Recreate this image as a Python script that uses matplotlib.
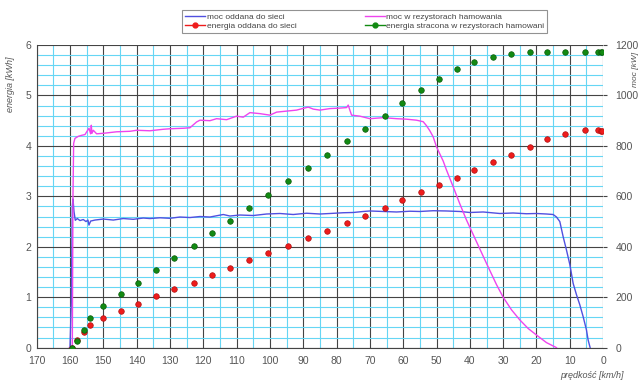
import matplotlib.pyplot as plt
from matplotlib.lines import Line2D
from matplotlib.ticker import MultipleLocator

plt.rcParams['font.family'] = ['Liberation Sans', 'DejaVu Sans']

# energy readings taken at these speeds [km/h]
speed_pts = [159.5, 157.8, 155.9, 154.0, 150.0, 144.8, 139.5, 134.2, 128.8, 122.8,
             117.5, 111.9, 106.3, 100.5, 94.5, 88.7, 83.0, 77.0, 71.5, 65.6,
             60.3, 54.7, 49.4, 44.0, 38.7, 33.1, 27.5, 22.0, 16.8, 11.4,
             5.5, 1.5, 0.6, 0.2]
energy_grid = [0.0, 0.15, 0.31, 0.45, 0.59, 0.72, 0.87, 1.02, 1.16, 1.29,
               1.44, 1.58, 1.73, 1.88, 2.02, 2.18, 2.32, 2.47, 2.61, 2.77,
               2.92, 3.08, 3.23, 3.37, 3.53, 3.68, 3.82, 3.97, 4.13, 4.24,
               4.31, 4.31, 4.30, 4.29]
energy_lost = [0.0, 0.14, 0.35, 0.58, 0.83, 1.06, 1.29, 1.54, 1.78, 2.01,
               2.27, 2.52, 2.77, 3.02, 3.30, 3.56, 3.82, 4.09, 4.34, 4.59,
               4.85, 5.10, 5.33, 5.53, 5.67, 5.77, 5.83, 5.86, 5.87, 5.87,
               5.87, 5.87, 5.87, 5.87]

# power fed back to the grid [kW]
grid_speed = [160.0, 159.6, 159.3, 159.1, 158.8, 158.4, 157.8, 157.0, 156.0, 155.2,
              154.6, 154.3, 153.8, 152.5, 150.0, 147.0, 144.0, 141.0, 138.0, 136.0,
              133.0, 130.0, 127.0, 124.0, 121.0, 118.0, 114.0, 112.0, 109.0, 105.0,
              101.0, 97.0, 93.0, 89.0, 85.0, 82.0, 78.0, 75.0, 72.0, 70.0,
              66.0, 62.0, 58.0, 55.0, 51.0, 47.0, 43.0, 40.0, 36.0, 31.0,
              27.0, 23.0, 20.0, 17.0, 15.0, 14.0, 13.0, 12.0, 11.0, 10.0,
              9.0, 8.0, 7.0, 6.0, 5.0, 4.5, 3.9]
grid_power = [0, 180, 560, 590, 540, 505, 512, 504, 508, 500,
              506, 486, 502, 506, 510, 506, 512, 509, 514, 512,
              515, 513, 518, 516, 520, 518, 528, 522, 526, 524,
              530, 532, 528, 533, 530, 532, 535, 536, 540, 542,
              540, 538, 541, 540, 543, 542, 540, 536, 538, 532,
              534, 531, 532, 530, 528, 518, 500, 440, 387, 330,
              255, 210, 170, 123, 70, 30, 0]

# power dissipated in the braking resistors [kW]
res_speed = [160.2, 159.3, 159.1, 158.9, 158.5, 157.5, 156.5, 155.5, 154.3, 153.8,
             153.6, 153.4, 153.0, 152.0, 150.0, 146.0, 142.0, 140.0, 136.0, 132.0,
             130.0, 126.0, 124.0, 122.0, 121.0, 118.0, 116.0, 113.0, 110.0, 108.0,
             106.0, 103.0, 100.0, 98.0, 95.0, 92.0, 88.5, 87.0, 85.0, 82.0,
             79.0, 77.0, 76.5, 75.5, 73.0, 70.0, 66.0, 62.0, 59.0, 56.0,
             54.0, 53.0, 52.0, 51.0, 50.0, 48.0, 47.0, 45.0, 43.0, 41.0,
             38.0, 35.0, 32.0, 30.0, 27.5, 25.0, 22.5, 20.0, 17.0, 14.0]
res_power = [0, 0, 600, 810, 830, 838, 842, 845, 870, 848,
             882, 850, 862, 848, 850, 856, 858, 862, 860, 866,
             868, 870, 872, 895, 902, 900, 908, 904, 918, 914,
             932, 928, 922, 934, 938, 942, 954, 946, 942, 948,
             950, 952, 962, 922, 918, 908, 912, 908, 906, 902,
             896, 880, 860, 836, 796, 740, 704, 638, 570, 506,
             420, 334, 250, 200, 150, 110, 76, 50, 20, 0]

x_ticks = list(range(0, 171, 10))
left_ticks = [0, 1, 2, 3, 4, 5, 6]
right_ticks = [0, 200, 400, 600, 800, 1000, 1200]

blue = '#5050e0'
magenta = '#ee44ee'
red = '#ee1c1c'
green = '#128a12'
text_col = '#555555'

fig = plt.figure(figsize=(6.43, 3.85), dpi=100)
ax = fig.add_axes([0.057, 0.097, 0.881, 0.786])
ax2 = ax.twinx()

ax.set_xlim(170, 0)
ax.set_ylim(0, 6)
ax2.set_ylim(0, 1200)

ax.xaxis.set_major_locator(MultipleLocator(10))
ax.xaxis.set_minor_locator(MultipleLocator(5))
ax.yaxis.set_major_locator(MultipleLocator(1))
ax.yaxis.set_minor_locator(MultipleLocator(0.2))
ax.set_xticks(x_ticks)
ax.set_yticks(left_ticks)
ax2.set_yticks(right_ticks)

ax.grid(which='minor', color='#66d6f4', linewidth=0.8)
ax.grid(which='major', color='#444444', linewidth=0.8)
ax.set_axisbelow(True)

ax.tick_params(which='both', length=0, labelsize=7.5, labelcolor=text_col)
ax.tick_params(axis='x', pad=6)
ax.tick_params(axis='y', pad=4)
ax2.tick_params(length=3, labelsize=7.5, labelcolor=text_col, color='#444444', pad=6)

for a in (ax, ax2):
    for side in ('top', 'right'):
        a.spines[side].set_visible(False)
    a.spines['left'].set_color('#444444')
    a.spines['bottom'].set_color('#444444')
ax2.spines['left'].set_visible(False)
ax2.spines['bottom'].set_visible(False)

ax2.plot(grid_speed, grid_power, color=blue, linewidth=1.0, zorder=3)
ax2.plot(res_speed, res_power, color=magenta, linewidth=1.0, zorder=3)
ax2.plot(speed_pts, energy_grid, linestyle='none', marker='o', markersize=4,
         color=red, markeredgecolor='#b01010', markeredgewidth=0.5, zorder=4,
         transform=ax.transData)
ax2.plot(speed_pts, energy_lost, linestyle='none', marker='o', markersize=4,
         color=green, markeredgecolor='#0a5a0a', markeredgewidth=0.5, zorder=4,
         transform=ax.transData)

ax.set_ylabel('energia [kWh]', fontsize=6.5, style='italic', color=text_col, labelpad=8)
ax.yaxis.set_label_coords(-0.038, 0.87)
fig.text(0.988, 0.82, 'moc [kW]', fontsize=6, style='italic', color=text_col,
         rotation=90, ha='center', va='center')
fig.text(0.97, 0.018, 'prędkość [km/h]', fontsize=6.5, style='italic',
         color=text_col, ha='right')

# legend is filled column by column: power entries on top, energy below
handles = [
    Line2D([], [], color=blue, linewidth=1.0),
    Line2D([], [], color=red, linewidth=1.0, marker='o', markersize=3.5),
    Line2D([], [], color=magenta, linewidth=1.0),
    Line2D([], [], color=green, linewidth=1.0, marker='o', markersize=3.5),
]
labels = ['moc oddana do sieci', 'energia oddana do sieci',
          'moc w rezystorach hamowania', 'energia stracona w rezystorach hamowani']
leg = fig.legend(handles, labels, ncol=2, loc='upper left',
                 bbox_to_anchor=(0.283, 0.974), fontsize=6, frameon=True,
                 fancybox=False, edgecolor='#777777', handlelength=2.4,
                 handletextpad=0.2, columnspacing=8.2, borderpad=0.35,
                 labelspacing=0.2, borderaxespad=0)
for t in leg.get_texts():
    t.set_color('#444444')
leg.get_frame().set_linewidth(0.8)

fig.savefig('out.png', dpi=100)
